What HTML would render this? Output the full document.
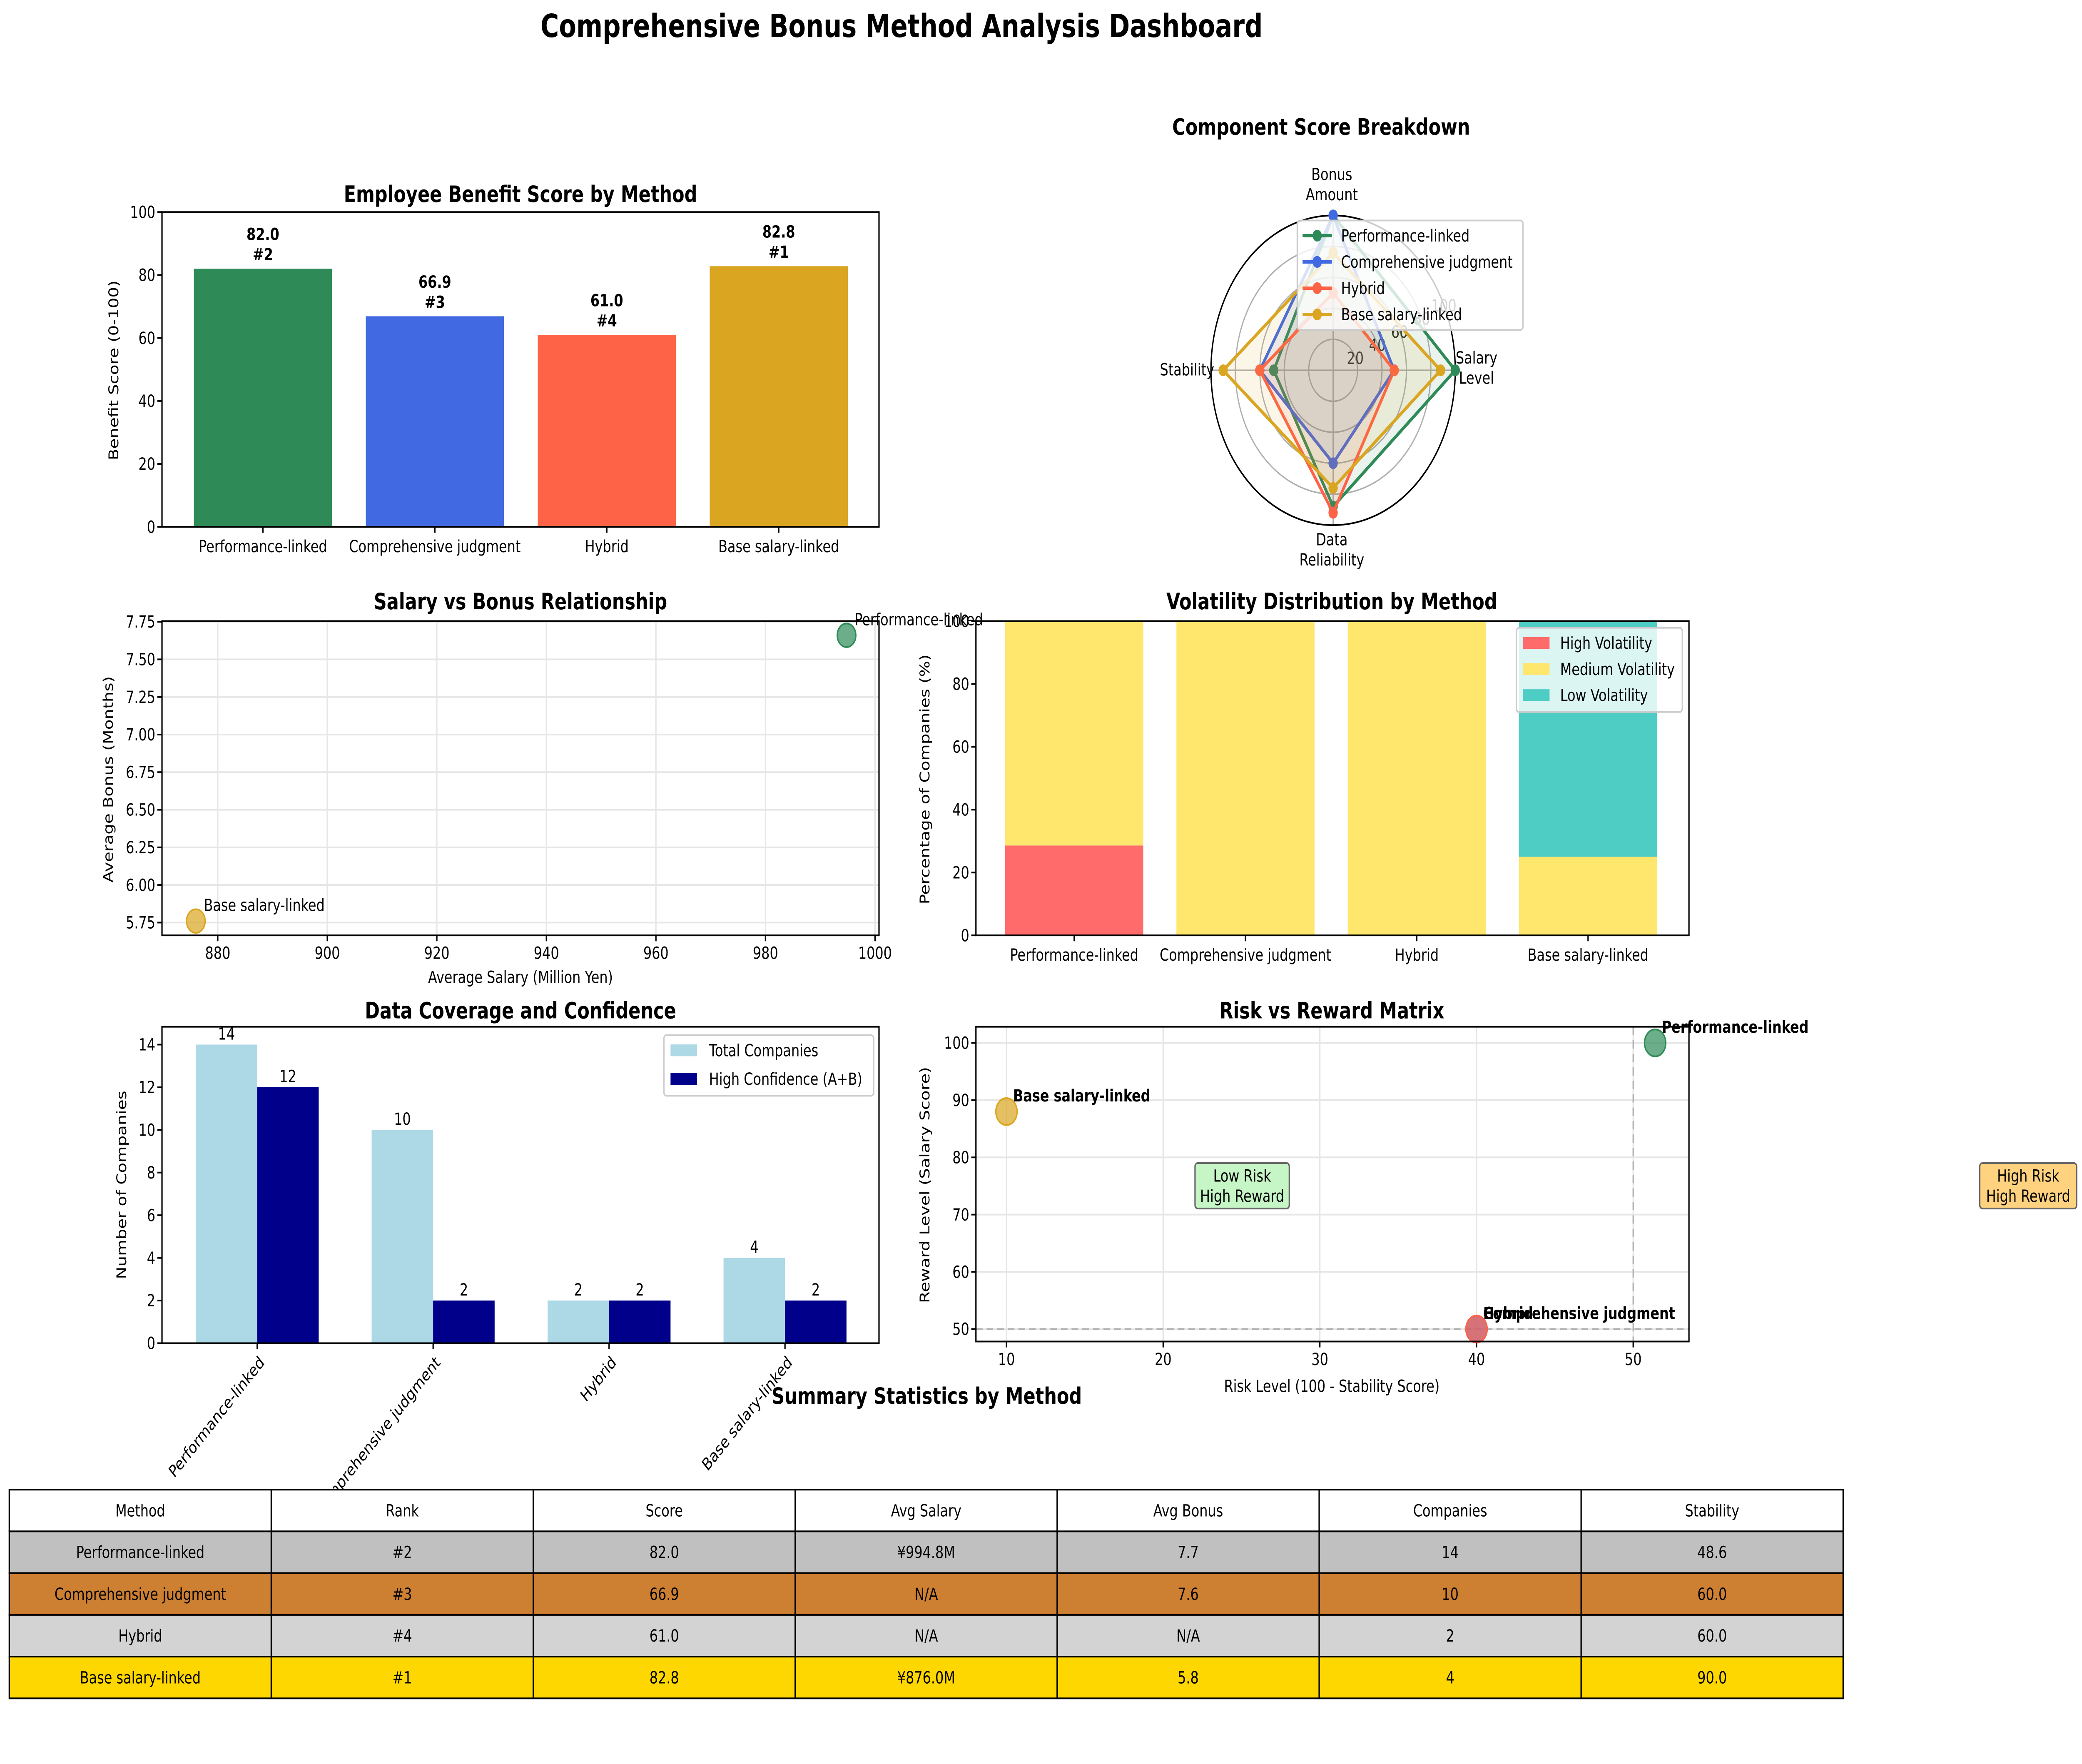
<!DOCTYPE html>
<html><head><meta charset="utf-8"><style>
html,body{margin:0;padding:0;background:#fff;overflow:hidden;width:100vw;height:100vh}
svg{display:block;width:100vw;height:100vh}
text{font-family:"DejaVu Sans","Liberation Sans",sans-serif;fill:#000}
.t{font-size:13.5px;font-weight:bold}
.k{font-size:10px}
.l{font-size:10px}
</style></head><body>
<svg id="fig" xmlns="http://www.w3.org/2000/svg" viewBox="0 0 1568 1048" preserveAspectRatio="none">
<rect width="1568" height="1048" fill="#fff"/>
<text x="679" y="22" text-anchor="middle" style="font-size:19px;font-weight:bold">Comprehensive Bonus Method Analysis Dashboard</text>
<g id="g"></g>
</svg>
<script>
const methods = ["Performance-linked","Comprehensive judgment","Hybrid","Base salary-linked"];
const colors = ["#2e8b57","#4169e1","#ff6347","#daa520"];
const benefitScores = [82.0,66.9,61.0,82.8];
const benefitRanks = ["#2","#3","#4","#1"];
const radarAxes = ["Salary\nLevel","Bonus\nAmount","Stability","Data\nReliability"];
const radarPerf = [100,100,48.6,88];
const radarComp = [50,100,60,60];
const radarHybrid = [50,50,60,92];
const radarBase = [88,76,90,76];
const salaryVals = [994.8,876.0];
const bonusVals = [7.66,5.76];
const salaryLabels = ["Performance-linked","Base salary-linked"];
const salaryColors = ["#2e8b57","#daa520"];
const volHigh = [28.6,0,0,0];
const volMed = [71.4,100,100,25];
const volLow = [0,0,0,75];
const totalCompanies = [14,10,2,4];
const highConf = [12,2,2,2];
const riskVals = [51.4,40,40,10];
const rewardVals = [100,50,50,88];
const tableHeader = ["Method","Rank","Score","Avg Salary","Avg Bonus","Companies","Stability"];
const tableRows = [
 ["Performance-linked","#2","82.0","¥994.8M","7.7","14","48.6"],
 ["Comprehensive judgment","#3","66.9","N/A","7.6","10","60.0"],
 ["Hybrid","#4","61.0","N/A","N/A","2","60.0"],
 ["Base salary-linked","#1","82.8","¥876.0M","5.8","4","90.0"]];
const rowColors = ["#c0c0c0","#cd7f32","#d3d3d3","#ffd700"];

const NS="http://www.w3.org/2000/svg";
const G=document.getElementById('g');
function mk(tag,attrs,parent){const e=document.createElementNS(NS,tag);for(const k in attrs)e.setAttribute(k,attrs[k]);(parent||G).appendChild(e);return e;}
function txt(x,y,s,cls,anchor,parent){const e=mk('text',{x:x,y:y,'class':cls||'k','text-anchor':anchor||'middle'},parent);e.textContent=s;return e;}
function lin(a,b,c,d){return v=>c+(v-a)*(d-c)/(b-a);}
function frame(x0,y0,x1,y1,name){const r=mk('rect',{x:x0,y:y0,width:x1-x0,height:y1-y0,fill:'none',stroke:'#000','stroke-width':1});

}
function yticks(vals,fy,x0,fmt,grid,x1){vals.forEach(v=>{const y=fy(v);
if(grid){const g=mk('line',{x1:x0,x2:x1,y1:y,y2:y,stroke:'#e6e6e6','stroke-width':1});}
mk('line',{x1:x0-3.5,x2:x0,y1:y,y2:y,stroke:'#000'});
const t=txt(x0-5,y+3.5,fmt(v),'k','end');

});}
function xticks(vals,fx,y1,fmt,grid,y0){vals.forEach(v=>{const x=fx(v);
if(grid){const g=mk('line',{x1:x,x2:x,y1:y0,y2:y1,stroke:'#e6e6e6','stroke-width':1});}
mk('line',{x1:x,x2:x,y1:y1,y2:y1+3.5,stroke:'#000'});
const t=txt(x,y1+14,fmt(v),'k','middle');

});}
function ylabel(x,y,s){const t=mk('text',{x:0,y:0,'class':'l','text-anchor':'middle',transform:`translate(${x},${y}) rotate(-90)`});t.textContent=s;

}

// Panel 1
(function(){const x0=122,x1=662,y0=126,y1=313;const fy=lin(0,100,y1,y0);
let t=txt(392,120,'Employee Benefit Score by Method','t');


const cx=i=>198+i*129.5;
benefitScores.forEach((v,i)=>{const b=mk('rect',{x:cx(i)-52,y:fy(v),width:104,height:y1-fy(v),fill:colors[i]});


const a=txt(cx(i),fy(v)-17,v.toFixed(1),'k');a.style.fontWeight='bold';


const r=txt(cx(i),fy(v)-5,benefitRanks[i],'k');r.style.fontWeight='bold';


mk('line',{x1:cx(i),x2:cx(i),y1:y1,y2:y1+3.5,stroke:'#000'});
const xl=txt(cx(i),y1+15,methods[i]);

});
yticks([0,20,40,60,80,100],fy,x0,v=>v,false);
ylabel(89,220,'Benefit Score (0-100)');
frame(x0,y0,x1,y1,'benefit-chart-axes');})();

// Panel 2 radar
(function(){const cx=1004,cy=220,k=0.92;
let t=txt(995,80,'Component Score Breakdown','t');


[20,40,60,80].forEach(v=>{const c=mk('circle',{cx:cx,cy:cy,r:v*k,fill:'none',stroke:'#b0b0b0','stroke-width':0.9});

});
radarAxes.forEach((a,i)=>{const an=i*Math.PI/2;mk('line',{x1:cx,y1:cy,x2:cx+100*k*Math.cos(an),y2:cy-100*k*Math.sin(an),stroke:'#b0b0b0','stroke-width':0.9});});
const oc=mk('circle',{cx:cx,cy:cy,r:100*k,fill:'none',stroke:'#000','stroke-width':1});


[20,40,60,80,100].forEach(v=>{const an=25*Math.PI/180;const l=txt(cx+v*k*Math.cos(an),cy-v*k*Math.sin(an)+4,v,'k','middle');l.style.fill='#222';

});
const series=[radarPerf,radarComp,radarHybrid,radarBase];
series.forEach((s,si)=>{const pts=s.map((v,i)=>{const an=i*Math.PI/2;return [cx+v*k*Math.cos(an),cy-v*k*Math.sin(an)];});
const p=mk('polygon',{points:pts.map(p=>p.join(',')).join(' '),fill:colors[si],'fill-opacity':0.1,stroke:colors[si],'stroke-width':2});


pts.forEach(q=>{const c=mk('circle',{cx:q[0],cy:q[1],r:3.5,fill:colors[si]});

});});
radarAxes.forEach((a,i)=>{const lines=a.split('\n');const tt=mk('text',{x:0,y:0,'class':'k','text-anchor':'middle'});
const ys=[[216,228],[107,119],[223],[324,336]][i];const xs=[1112,1003,894,1003][i];


lines.forEach((ln,j)=>{const s=mk('tspan',{x:xs,y:ys[j]},tt);s.textContent=ln;});});
const lg=mk('rect',{x:977,y:131,width:170,height:65,fill:'#fff','fill-opacity':0.8,stroke:'#ccc',rx:2});


methods.forEach((m,i)=>{const y=140+i*15.6;mk('line',{x1:981,x2:1003,y1:y,y2:y,stroke:colors[i],'stroke-width':2});mk('circle',{cx:992,cy:y,r:3.5,fill:colors[i]});
const e=txt(1010,y+3.5,m,'k','start');

});})();

// Panel 3 scatter
(function(){const x0=122,x1=662,y0=369,y1=555.7;const fx=lin(880,1000,164,659),fy=lin(5.75,7.75,548.1,369.4);
let t=txt(392,362,'Salary vs Bonus Relationship','t');


yticks([5.75,6,6.25,6.5,6.75,7,7.25,7.5,7.75],fy,x0,v=>v.toFixed(2),true,x1);
xticks([880,900,920,940,960,980,1000],fx,y1,v=>v,true,y0);
salaryVals.forEach((v,i)=>{const c=mk('circle',{cx:fx(v),cy:fy(bonusVals[i]),r:7,fill:salaryColors[i],'fill-opacity':0.7,stroke:salaryColors[i]});


const l=txt(fx(v)+6,fy(bonusVals[i])-6,salaryLabels[i],'k','start');

});
ylabel(85,463,'Average Bonus (Months)');
const xl=txt(392,584,'Average Salary (Million Yen)','l');


frame(x0,y0,x1,y1,'salary-bonus-axes');})();

// Panel 4 volatility
(function(){const x0=735,x1=1272,y0=369,y1=555.7;const fy=lin(0,100,y1,y0);
let t=txt(1003,362,'Volatility Distribution by Method','t');


const cx=i=>809+i*129;const vc=["#ff6b6b","#ffe66d","#4ecdc4"];
methods.forEach((m,i)=>{let base=0;[volHigh[i],volMed[i],volLow[i]].forEach((v,s)=>{if(v>0){const b=mk('rect',{x:cx(i)-52,y:fy(base+v),width:104,height:fy(base)-fy(base+v),fill:vc[s]});

}base+=v;});
mk('line',{x1:cx(i),x2:cx(i),y1:y1,y2:y1+3.5,stroke:'#000'});
const xl=txt(cx(i),y1+15,m);

});
yticks([0,20,40,60,80,100],fy,x0,v=>v,false);
ylabel(700,463,'Percentage of Companies (%)');
const lg=mk('rect',{x:1142,y:373,width:125,height:50,fill:'#fff','fill-opacity':0.8,stroke:'#ccc',rx:2});


["High Volatility","Medium Volatility","Low Volatility"].forEach((s,i)=>{const y=382+i*15.5;mk('rect',{x:1147,y:y-3.5,width:20,height:7,fill:vc[i]});
const e=txt(1175,y+3.5,s,'k','start');

});
frame(x0,y0,x1,y1,'volatility-axes');})();

// Panel 5 coverage
(function(){const x0=122,x1=662,y0=610,y1=798;const fy=lin(0,14,y1,620.6);
let t=txt(392,605,'Data Coverage and Confidence','t');


const cx=i=>193.7+i*132.5;
methods.forEach((m,i)=>{[[totalCompanies[i],'#add8e6',-46.3],[highConf[i],'#00008b',0]].forEach(([v,c,o])=>{const b=mk('rect',{x:cx(i)+o,y:fy(v),width:46.3,height:y1-fy(v),fill:c});


const l=txt(cx(i)+o+23.15,fy(v)-3,v,'k');

});
mk('line',{x1:cx(i),x2:cx(i),y1:y1,y2:y1+3.5,stroke:'#000'});
const xl=mk('text',{x:0,y:0,'class':'k','text-anchor':'end',transform:`translate(${cx(i)+6},${y1+12}) rotate(-45)`});xl.textContent=m;

});
yticks([0,2,4,6,8,10,12,14],fy,x0,v=>v,false);
ylabel(95,704,'Number of Companies');
const lg=mk('rect',{x:500,y:615,width:158,height:36,fill:'#fff','fill-opacity':0.8,stroke:'#ccc',rx:2});


[["Total Companies",'#add8e6'],["High Confidence (A+B)",'#00008b']].forEach(([s,c],i)=>{const y=624+i*17;mk('rect',{x:505,y:y-3.5,width:20,height:7,fill:c});
const e=txt(534,y+3.5,s,'k','start');

});
frame(x0,y0,x1,y1,'coverage-axes');})();

// Panel 6 risk reward
(function(){const x0=735,x1=1272,y0=610,y1=797;const fx=lin(10,50,758,1230),fy=lin(50,100,789.6,619.6);
let t=txt(1003,605,'Risk vs Reward Matrix','t');


yticks([50,60,70,80,90,100],fy,x0,v=>v,true,x1);
xticks([10,20,30,40,50],fx,y1,v=>v,true,y0);
const dl1=mk('line',{x1:fx(50),x2:fx(50),y1:y0,y2:y1,stroke:'#999','stroke-opacity':0.7,'stroke-dasharray':'5,3'});


const dl2=mk('line',{x1:x0,x2:x1,y1:fy(50),y2:fy(50),stroke:'#999','stroke-opacity':0.7,'stroke-dasharray':'5,3'});


riskVals.forEach((v,i)=>{const c=mk('circle',{cx:fx(v),cy:fy(rewardVals[i]),r:8,fill:colors[i],'fill-opacity':0.7,stroke:colors[i]});


const l=txt(fx(v)+5,fy(rewardVals[i])-6,methods[i],'k','start');l.style.fontWeight='bold';

});
const b1=mk('rect',{x:900,y:691,width:71,height:27,fill:'#c6f5c6',stroke:'#666',rx:2});


txt(935.5,702,'Low Risk');txt(935.5,714,'High Reward');
const b2=mk('rect',{x:1491,y:691,width:73,height:27,fill:'#ffd27f',stroke:'#666',rx:2});


txt(1527.5,702,'High Risk');txt(1527.5,714,'High Reward');
ylabel(700,704,'Reward Level (Salary Score)');
const xl=txt(1003,827,'Risk Level (100 - Stability Score)','l');


frame(x0,y0,x1,y1,'risk-reward-axes');})();

// Table
(function(){let t=txt(698,834,'Summary Statistics by Method','t');


const x0=7,w=197.3,y0=885,h=24.8;
const rows=[tableHeader].concat(tableRows);
rows.forEach((r,ri)=>{r.forEach((c,ci)=>{const cell=mk('rect',{x:x0+ci*w,y:y0+ri*h,width:w,height:h,fill:ri===0?'#fff':rowColors[ri-1],stroke:'#000','stroke-width':1});


const tt=txt(x0+ci*w+w/2,y0+ri*h+h/2+3.5,c,'k');

});});})();
</script>
</body></html>
